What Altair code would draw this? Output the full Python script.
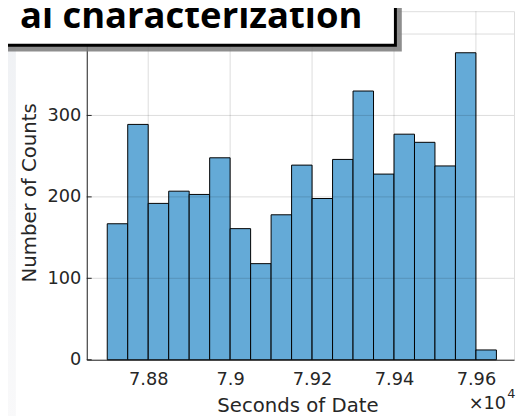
import altair as alt
import pandas as pd

# ---- data ----
bin_start = [78700, 78750, 78800, 78850, 78900, 78950, 79000, 79050, 79100, 79150,
             79200, 79250, 79300, 79350, 79400, 79450, 79500, 79550, 79600]
bin_end = [78750, 78800, 78850, 78900, 78950, 79000, 79050, 79100, 79150, 79200,
           79250, 79300, 79350, 79400, 79450, 79500, 79550, 79600, 79650]
counts = [167, 289, 192, 207, 203, 248, 161, 118, 178, 239,
          198, 246, 330, 228, 277, 267, 238, 377, 12]

x_ticks = [78800, 79000, 79200, 79400, 79600]
x_tick_labels = ["7.88", "7.9", "7.92", "7.94", "7.96"]
y_ticks = [0, 100, 200, 300, 400]
y_labeled = [0, 100, 200, 300]   # the 400 label sits hidden under the title box

title_text = "al characterization"
x_title = "Seconds of Date"
y_title = "Number of Counts"

W, H = 434, 354
X_DOMAIN = [78650, 79693]
Y_DOMAIN = [0, 428]

bars_df = pd.DataFrame({"start": bin_start, "end": bin_end, "count": counts})
xt_df = pd.DataFrame({"x": x_ticks})
yt_df = pd.DataFrame({"y": y_ticks})

label_expr = "{" + ",".join(f"'{v}':'{l}'" for v, l in zip(x_ticks, x_tick_labels)) + "}[datum.value]"

xscale = alt.Scale(domain=X_DOMAIN, nice=False, zero=False)
yscale = alt.Scale(domain=Y_DOMAIN, nice=False)

AX_FONT = "DejaVu Sans"
AX_COLOR = "#262626"

bars = alt.Chart(bars_df).mark_rect(
    fill="#64aad7", stroke="black", strokeWidth=1
).encode(
    x=alt.X("start:Q", scale=xscale, axis=alt.Axis(
        values=x_ticks, labelExpr=label_expr, grid=False, ticks=False,
        domainColor=AX_COLOR, domainWidth=1,
        labelFont=AX_FONT, labelFontSize=18, labelColor=AX_COLOR, labelPadding=11,
        labelBaseline="top",
        title=x_title, titleFont=AX_FONT, titleFontSize=20, titleFontWeight="normal",
        titleColor=AX_COLOR, titleX=214, titleY=53, titleBaseline="alphabetic",
        titleAnchor="middle", titleAlign="center")),
    x2="end:Q",
    y=alt.Y("count:Q", scale=yscale, axis=alt.Axis(
        values=y_labeled, grid=False, ticks=False,
        domainColor=AX_COLOR, domainWidth=1,
        labelFont=AX_FONT, labelFontSize=18, labelColor=AX_COLOR, labelPadding=6,
        title=y_title, titleFont=AX_FONT, titleFontSize=20, titleFontWeight="normal",
        titleColor=AX_COLOR, titleX=-52, titleY=184, titleBaseline="alphabetic",
        titleAngle=270, titleAlign="center")),
    y2=alt.datum(0),
)

vgrid = alt.Chart(xt_df).mark_rule(color="black", opacity=0.14, strokeWidth=1).encode(
    x=alt.X("x:Q", scale=xscale)
)
hgrid = alt.Chart(yt_df.iloc[1:]).mark_rule(color="black", opacity=0.14, strokeWidth=1).encode(
    y=alt.Y("y:Q", scale=yscale)
)
yticks = alt.Chart(yt_df).mark_rule(color=AX_COLOR, strokeWidth=1).encode(
    y=alt.Y("y:Q", scale=yscale), x=alt.value(0), x2=alt.value(5)
)

one = alt.Data(values=[{"a": 1}])

strip = alt.Chart(one).mark_rect(
    color={"gradient": "linear", "x1": 0, "x2": 0, "y1": 0, "y2": 1,
           "stops": [{"offset": 0, "color": "#eff1f4"}, {"offset": 1, "color": "#f9f9fa"}]}
).encode(x=alt.value(-88), x2=alt.value(-72), y=alt.value(0), y2=alt.value(H + 70))

shadow = alt.Chart(one).mark_rect(color="#7a7a7a", opacity=0.85).encode(
    x=alt.value(-100), x2=alt.value(320), y=alt.value(-20), y2=alt.value(41)
)
box = alt.Chart(one).mark_rect(fill="white", stroke="black", strokeWidth=3).encode(
    x=alt.value(-100), x2=alt.value(313.5), y=alt.value(-20), y2=alt.value(34.5)
)
title = alt.Chart(one).mark_text(
    font="Open Sans", fontSize=37, fontWeight="bold", color="black",
    align="right", baseline="alphabetic"
).encode(x=alt.value(280), y=alt.value(17), text=alt.value(title_text))

times = alt.Chart(one).mark_text(
    font=AX_FONT, fontSize=18, color=AX_COLOR, align="right", baseline="alphabetic"
).encode(x=alt.value(426), y=alt.value(404), text=alt.value("\u00d710"))
exp = alt.Chart(one).mark_text(
    font=AX_FONT, fontSize=13, color=AX_COLOR, align="left", baseline="alphabetic"
).encode(x=alt.value(427), y=alt.value(393), text=alt.value("4"))

chart = alt.layer(
    strip, bars, vgrid, hgrid, yticks, shadow, box, title, times, exp
).properties(
    width=W, height=H,
    padding={"left": 80, "top": 0, "right": 2, "bottom": 62},
    autosize="none",
).configure_view(stroke=None).configure(background="white")

chart.save("out.html", embed_options={"renderer": "svg", "actions": False})
